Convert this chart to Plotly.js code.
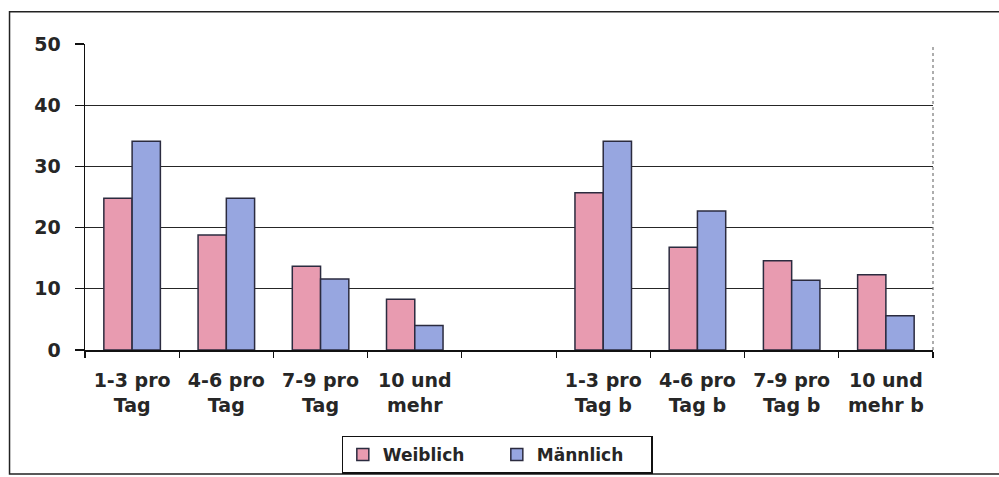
<!DOCTYPE html>
<html>
<head>
<meta charset="utf-8">
<script src="https://cdn.plot.ly/plotly-3.0.1.min.js"></script>
<style>
  html, body { margin: 0; padding: 0; background: #ffffff; }
  #chart { width: 999px; height: 477px; }
</style>
</head>
<body>
<div id="chart"></div>
<script>
// Frequency groups (the blank entry leaves an empty slot between the two blocks)
const categories = [
  "1-3 pro<br>Tag", "4-6 pro<br>Tag", "7-9 pro<br>Tag", "10 und<br>mehr",
  " ",
  "1-3 pro<br>Tag b", "4-6 pro<br>Tag b", "7-9 pro<br>Tag b", "10 und<br>mehr b"
];
const weiblich = [24.8, 18.8, 13.7, 8.3, null, 25.7, 16.8, 14.6, 12.3];
const maennlich = [34.1, 24.8, 11.6, 4.0, null, 34.1, 22.7, 11.4, 5.6];
const yTicks = [0, 10, 20, 30, 40, 50];

const FONT = "DejaVu Sans, Arial, sans-serif";
const TEXT = "#262626";
const EDGE = { color: "#2b2b3f", width: 1.5 };

const traces = [
  {
    type: "bar", name: "Weiblich", x: categories, y: weiblich,
    marker: { color: "#e89bb0", line: EDGE }
  },
  {
    type: "bar", name: "Männlich", x: categories, y: maennlich,
    marker: { color: "#97a6e0", line: EDGE }
  }
];

const layout = {
  width: 999, height: 477,
  margin: { l: 85, r: 66, t: 44, b: 127, autoexpand: false },
  paper_bgcolor: "#ffffff", plot_bgcolor: "#ffffff",
  font: { family: FONT, size: 19, color: TEXT, weight: "bold" },
  barmode: "group", bargap: 0.4, bargroupgap: 0,
  showlegend: true,
  legend: {
    orientation: "h", x: 0.486, xanchor: "center", y: -0.28, yanchor: "top",
    bordercolor: "#111111", borderwidth: 1.2, bgcolor: "#ffffff",
    font: { family: FONT, size: 17, color: TEXT, weight: "bold" },
    entrywidth: 109, itemwidth: 30, traceorder: "normal"
  },
  xaxis: {
    type: "category", categoryorder: "array", categoryarray: categories,
    showline: true, linecolor: "#111111", linewidth: 1.5,
    ticks: "outside", tickson: "boundaries", ticklen: 6, tickcolor: "#111111", tickwidth: 1.2,
    ticklabelstandoff: 13,
    tickfont: { family: FONT, size: 19, color: TEXT, weight: "bold" },
    showgrid: false, zeroline: false, fixedrange: true
  },
  yaxis: {
    range: [0, 50], tickvals: yTicks, ticktext: yTicks.map(String),
    showline: true, linecolor: "#111111", linewidth: 1.5,
    ticks: "outside", ticklen: 9, tickcolor: "#111111", tickwidth: 1.2,
    ticklabelstandoff: 10,
    tickfont: { family: FONT, size: 19, color: TEXT, weight: "bold" },
    showgrid: true, gridcolor: "#262626", gridwidth: 1.2,
    zeroline: false, fixedrange: true
  },
  shapes: [
    // outer chart frame
    { type: "rect", xref: "paper", yref: "paper", x0: -0.089, x1: 1.12, y0: -0.405, y1: 1.105,
      line: { color: "#222222", width: 1.5 }, fillcolor: "rgba(0,0,0,0)", layer: "below" },
    // right edge of the plotting area
    { type: "line", xref: "paper", yref: "paper", x0: 1, x1: 1, y0: 0, y1: 1,
      line: { color: "#777777", width: 1.2, dash: "dot" } }
  ]
};

Plotly.newPlot("chart", traces, layout, { displayModeBar: false, staticPlot: true });
</script>
</body>
</html>
